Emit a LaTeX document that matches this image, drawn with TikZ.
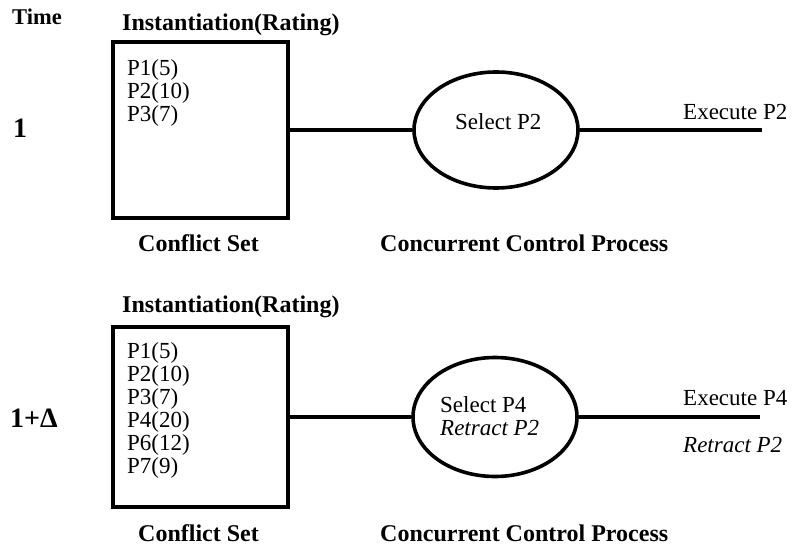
\documentclass[tikz,border=0pt]{standalone}
\usepackage{fontspec}
\setmainfont{Liberation Serif}
\usetikzlibrary{shapes.geometric}
\begin{document}
\begin{tikzpicture}[x=1pt,y=-1pt,
  txt/.style={inner sep=0pt,anchor=base west,font=\fontsize{23}{23}\selectfont},
  head/.style={inner sep=0pt,anchor=base west,font=\fontsize{24}{24}\selectfont\bfseries},
  tlabel/.style={inner sep=0pt,anchor=base west,font=\fontsize{28}{28}\selectfont\bfseries},
  setbox/.style={draw,line width=4.5pt,rectangle,minimum width=175pt,inner sep=0pt},
  ctrl/.style={draw,line width=3.6pt,ellipse,minimum width=164pt,inner sep=0pt},
  wire/.style={line width=3.6pt},
  list/.style={inner sep=0pt,anchor=north west,align=left,font=\fontsize{23}{23}\selectfont}]
\useasboundingbox (0,0) rectangle (792,545);

% time axis heading
\node[head,font=\fontsize{22.5}{22.5}\selectfont\bfseries] (time) at (12,25) {Time};

% ---- step 1 ----
\node[tlabel] (t1) at (13,138) {1};
\node[head] (inst1) at (122,31) {Instantiation(Rating)};
\node[setbox,minimum height=176pt] (cs1) at (200.5,130) {};
\node[list] (l1) at (127,59) {P1(5)\\P2(10)\\P3(7)};
\node[head] (csl1) at (138,252) {Conflict Set};
\node[ctrl,minimum height=116pt] (cp1) at (496,130) {};
\node[txt] (sel1) at (455,130) {Select P2};
\coordinate (out1) at (762,130);
\node[txt] (ex1) at (683,120) {Execute P2};
\node[head] (cpl1) at (380,252) {Concurrent Control Process};
\draw[wire] (cs1.east) -- (cp1.west);
\draw[wire] (cp1.east) -- (out1);

% ---- step 1+Delta ----
\node[tlabel] (t2) at (10,427) {1+Δ};
\node[head] (inst2) at (122,312) {Instantiation(Rating)};
\node[setbox,minimum height=180pt] (cs2) at (200.5,417) {};
\node[list] (l2) at (127,342) {P1(5)\\P2(10)\\P3(7)\\P4(20)\\P6(12)\\P7(9)};
\node[head] (csl2) at (138,541) {Conflict Set};
\node[ctrl,minimum height=119pt] (cp2) at (495,417) {};
\node[txt,align=left,anchor=north west] (sel2) at (440,396) {Select P4\\\itshape Retract P2};
\coordinate (out2) at (760,417);
\node[txt] (ex2) at (683,405) {Execute P4};
\node[txt,font=\fontsize{23}{23}\selectfont\itshape] (rt2) at (683,452) {Retract P2};
\node[head] (cpl2) at (380,541) {Concurrent Control Process};
\draw[wire] (cs2.east) -- (cp2.west);
\draw[wire] (cp2.east) -- (out2);
\end{tikzpicture}
\end{document}
